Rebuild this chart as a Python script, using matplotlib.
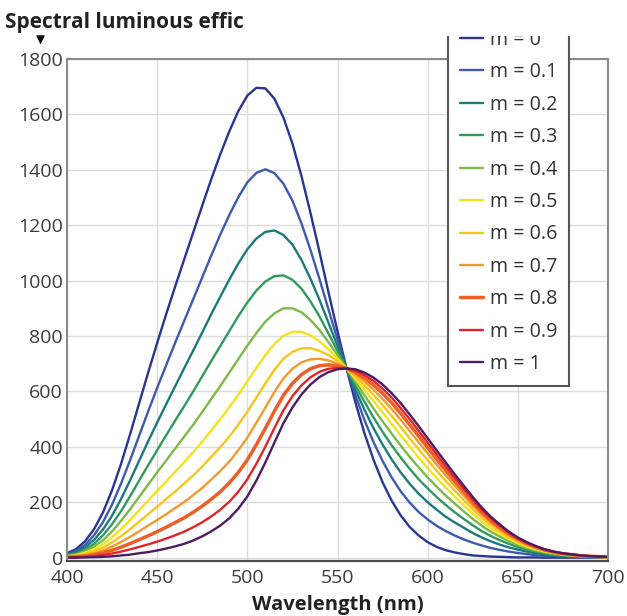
import matplotlib
matplotlib.use("Agg")
import matplotlib.pyplot as plt
from matplotlib.patches import Rectangle

plt.rcParams['font.family'] = ['Open Sans', 'DejaVu Sans']

wavelength = [400, 405, 410, 415, 420, 425, 430, 435, 440, 445,
              450, 455, 460, 465, 470, 475, 480, 485, 490, 495,
              500, 505, 510, 515, 520, 525, 530, 535, 540, 545,
              550, 555, 560, 565, 570, 575, 580, 585, 590, 595,
              600, 605, 610, 615, 620, 625, 630, 635, 640, 645,
              650, 655, 660, 665, 670, 675, 680, 685, 690, 695,
              700]

m_labels = ["m = 0", "m = 0.1", "m = 0.2", "m = 0.3", "m = 0.4", "m = 0.5",
            "m = 0.6", "m = 0.7", "m = 0.8", "m = 0.9", "m = 1"]

eff_m00 = [16, 31, 59, 103, 164, 244, 339, 446, 557, 668,
           775, 879, 979, 1077, 1174, 1271, 1366, 1456, 1539, 1612,
           1668, 1696, 1694, 1657, 1589, 1495, 1378, 1245, 1104, 958,
           817, 683, 559, 448, 353, 272, 206, 153, 111, 80,
           56, 39, 27, 19, 13, 8, 6, 4, 3, 2,
           1, 1, 1, 0, 0, 0, 0, 0, 0, 0,
           0]
eff_m01 = [12, 25, 46, 81, 129, 192, 268, 352, 440, 528,
           613, 695, 776, 855, 933, 1012, 1091, 1166, 1237, 1301,
           1355, 1389, 1402, 1388, 1350, 1289, 1207, 1111, 1006, 896,
           787, 683, 585, 496, 417, 349, 290, 240, 199, 165,
           138, 115, 96, 80, 66, 54, 44, 35, 28, 22,
           17, 13, 9, 7, 5, 4, 3, 2, 1, 1,
           1]
eff_m02 = [10, 20, 37, 64, 102, 152, 212, 279, 350, 420,
           488, 554, 619, 684, 748, 813, 879, 942, 1004, 1062,
           1113, 1152, 1176, 1181, 1165, 1130, 1075, 1007, 931, 848,
           764, 683, 605, 533, 467, 408, 355, 308, 267, 231,
           200, 173, 148, 127, 108, 89, 73, 59, 47, 37,
           29, 22, 16, 12, 8, 6, 5, 3, 2, 1,
           1]
eff_m03 = [8, 15, 29, 50, 81, 121, 168, 222, 278, 334,
           388, 442, 495, 547, 600, 655, 710, 764, 818, 872,
           921, 964, 997, 1016, 1019, 1003, 971, 925, 871, 809,
           746, 683, 621, 562, 506, 454, 406, 362, 321, 283,
           250, 219, 190, 164, 140, 117, 96, 78, 63, 50,
           38, 29, 22, 16, 11, 8, 6, 4, 3, 2,
           1]
eff_m04 = [6, 12, 23, 40, 63, 95, 133, 175, 219, 264,
           308, 351, 394, 437, 480, 526, 573, 620, 668, 717,
           765, 811, 852, 882, 900, 900, 886, 858, 822, 778,
           731, 683, 634, 586, 538, 492, 448, 405, 364, 326,
           290, 256, 224, 195, 167, 140, 115, 94, 76, 60,
           46, 35, 26, 19, 14, 10, 7, 5, 3, 2,
           2]
eff_m05 = [5, 9, 18, 30, 49, 74, 103, 136, 171, 206,
           241, 275, 310, 345, 381, 419, 459, 500, 543, 588,
           636, 685, 731, 771, 801, 815, 815, 803, 781, 752,
           719, 683, 645, 605, 565, 524, 483, 441, 401, 361,
           324, 287, 253, 220, 189, 159, 131, 107, 86, 68,
           52, 40, 30, 22, 16, 11, 8, 6, 4, 3,
           2]
eff_m06 = [4, 7, 13, 23, 37, 55, 78, 103, 130, 157,
           184, 212, 239, 268, 297, 329, 364, 399, 437, 480,
           527, 578, 629, 678, 718, 743, 756, 756, 747, 731,
           709, 683, 654, 622, 587, 551, 512, 472, 431, 391,
           352, 314, 277, 242, 208, 175, 144, 118, 95, 75,
           58, 44, 33, 24, 17, 13, 9, 6, 4, 3,
           2]
eff_m07 = [3, 5, 9, 16, 26, 40, 57, 75, 95, 116,
           136, 157, 179, 201, 226, 252, 282, 313, 347, 388,
           433, 487, 542, 598, 647, 682, 705, 716, 718, 712,
           700, 683, 662, 636, 606, 573, 537, 498, 457, 417,
           376, 336, 297, 260, 224, 188, 155, 127, 102, 81,
           63, 48, 36, 26, 19, 14, 10, 7, 5, 3,
           2]
eff_m08 = [2, 3, 6, 11, 17, 27, 38, 51, 65, 79,
           94, 110, 127, 144, 164, 186, 211, 238, 270, 308,
           353, 408, 467, 529, 586, 629, 661, 682, 693, 696,
           692, 683, 669, 648, 623, 593, 559, 521, 480, 439,
           397, 355, 315, 276, 238, 200, 165, 135, 109, 86,
           67, 51, 38, 28, 20, 14, 11, 7, 5, 4,
           3]
eff_m09 = [1, 2, 3, 6, 10, 15, 22, 30, 39, 48,
           58, 69, 81, 94, 110, 128, 149, 173, 202, 238,
           283, 339, 401, 468, 532, 583, 622, 651, 671, 682,
           685, 683, 674, 659, 638, 610, 578, 540, 500, 458,
           415, 372, 330, 289, 250, 210, 173, 142, 115, 90,
           70, 53, 40, 29, 21, 15, 11, 8, 5, 4,
           3]
eff_m10 = [0, 0, 1, 2, 3, 5, 8, 11, 16, 20,
           26, 33, 41, 50, 62, 77, 95, 116, 142, 177,
           221, 278, 344, 415, 485, 542, 589, 625, 652, 670,
           680, 683, 680, 668, 650, 625, 594, 558, 517, 475,
           431, 387, 344, 301, 260, 219, 181, 148, 120, 94,
           73, 56, 42, 30, 22, 16, 12, 8, 6, 4,
           3]

series = [eff_m00, eff_m01, eff_m02, eff_m03, eff_m04, eff_m05,
          eff_m06, eff_m07, eff_m08, eff_m09, eff_m10]

colors = ['#2b3491', '#3d5aae', '#1a7a7e', '#2e9a5c', '#7aba45', '#f1e41c',
          '#f8c51a', '#f39a2c', '#ee5f26', '#e2232a', '#4e1c62']
widths = [1.7, 1.7, 1.7, 1.7, 1.7, 1.7, 1.7, 1.7, 2.5, 1.7, 1.7]

x_ticks = [400, 450, 500, 550, 600, 650, 700]
y_ticks = [0, 200, 400, 600, 800, 1000, 1200, 1400, 1600, 1800]

W, H = 627, 616
fig = plt.figure(figsize=(W / 100, H / 100), dpi=100)
fig.patch.set_facecolor('white')
ax = fig.add_axes([67 / W, 1 - 561 / H, (608 - 67) / W, (561 - 59) / H])

for vals, lab, c, lw in zip(series, m_labels, colors, widths):
    ax.plot(wavelength, vals, color=c, lw=lw, label=lab,
            solid_capstyle='round', solid_joinstyle='round')

ax.set_xlim(400, 700)
ax.set_ylim(-12, 1800)
ax.set_xticks(x_ticks)
ax.set_yticks(y_ticks)
ax.grid(True, color='#dddddd', lw=1.0)
ax.set_axisbelow(True)
for side in ['left', 'top', 'right']:
    ax.spines[side].set_color('#8a8a8a')
    ax.spines[side].set_linewidth(1.5)
ax.spines['bottom'].set_color('#4a4a4a')
ax.spines['bottom'].set_linewidth(1.6)
ax.tick_params(axis='both', length=0, labelsize=14, colors='#3c3c3c')
ax.tick_params(axis='y', pad=3)
ax.tick_params(axis='x', pad=6)
ax.set_xlabel('Wavelength (nm)', fontsize=14.5, fontweight='bold',
              color='#222222', labelpad=5.5)

leg = ax.legend(loc='lower left', bbox_to_anchor=(448 / W, 1 - 386 / H),
                bbox_transform=fig.transFigure, frameon=True, fancybox=False,
                edgecolor='#555555', framealpha=1, fontsize=14.2,
                handlelength=1.17, handletextpad=0.36, labelspacing=0.63,
                borderpad=0.6, borderaxespad=0)
leg.get_frame().set_linewidth(1.5)
for t in leg.get_texts():
    t.set_color('#333333')

# white band hiding the clipped top of the legend
fig.add_artist(Rectangle((440 / W, 1 - 36 / H), 160 / W, 36 / H,
                         transform=fig.transFigure, facecolor='white',
                         edgecolor='none', zorder=10))

fig.text(5 / W, 1 - 28 / H, 'Spectral luminous effic', fontsize=15,
         fontweight='bold', color='#222222', ha='left', va='baseline')
fig.text(40 / W, 1 - 40 / H, '\u25BC', fontsize=8.5, color='#111111',
         ha='center', va='center', family='DejaVu Sans')

fig.savefig('out.png', dpi=100)
